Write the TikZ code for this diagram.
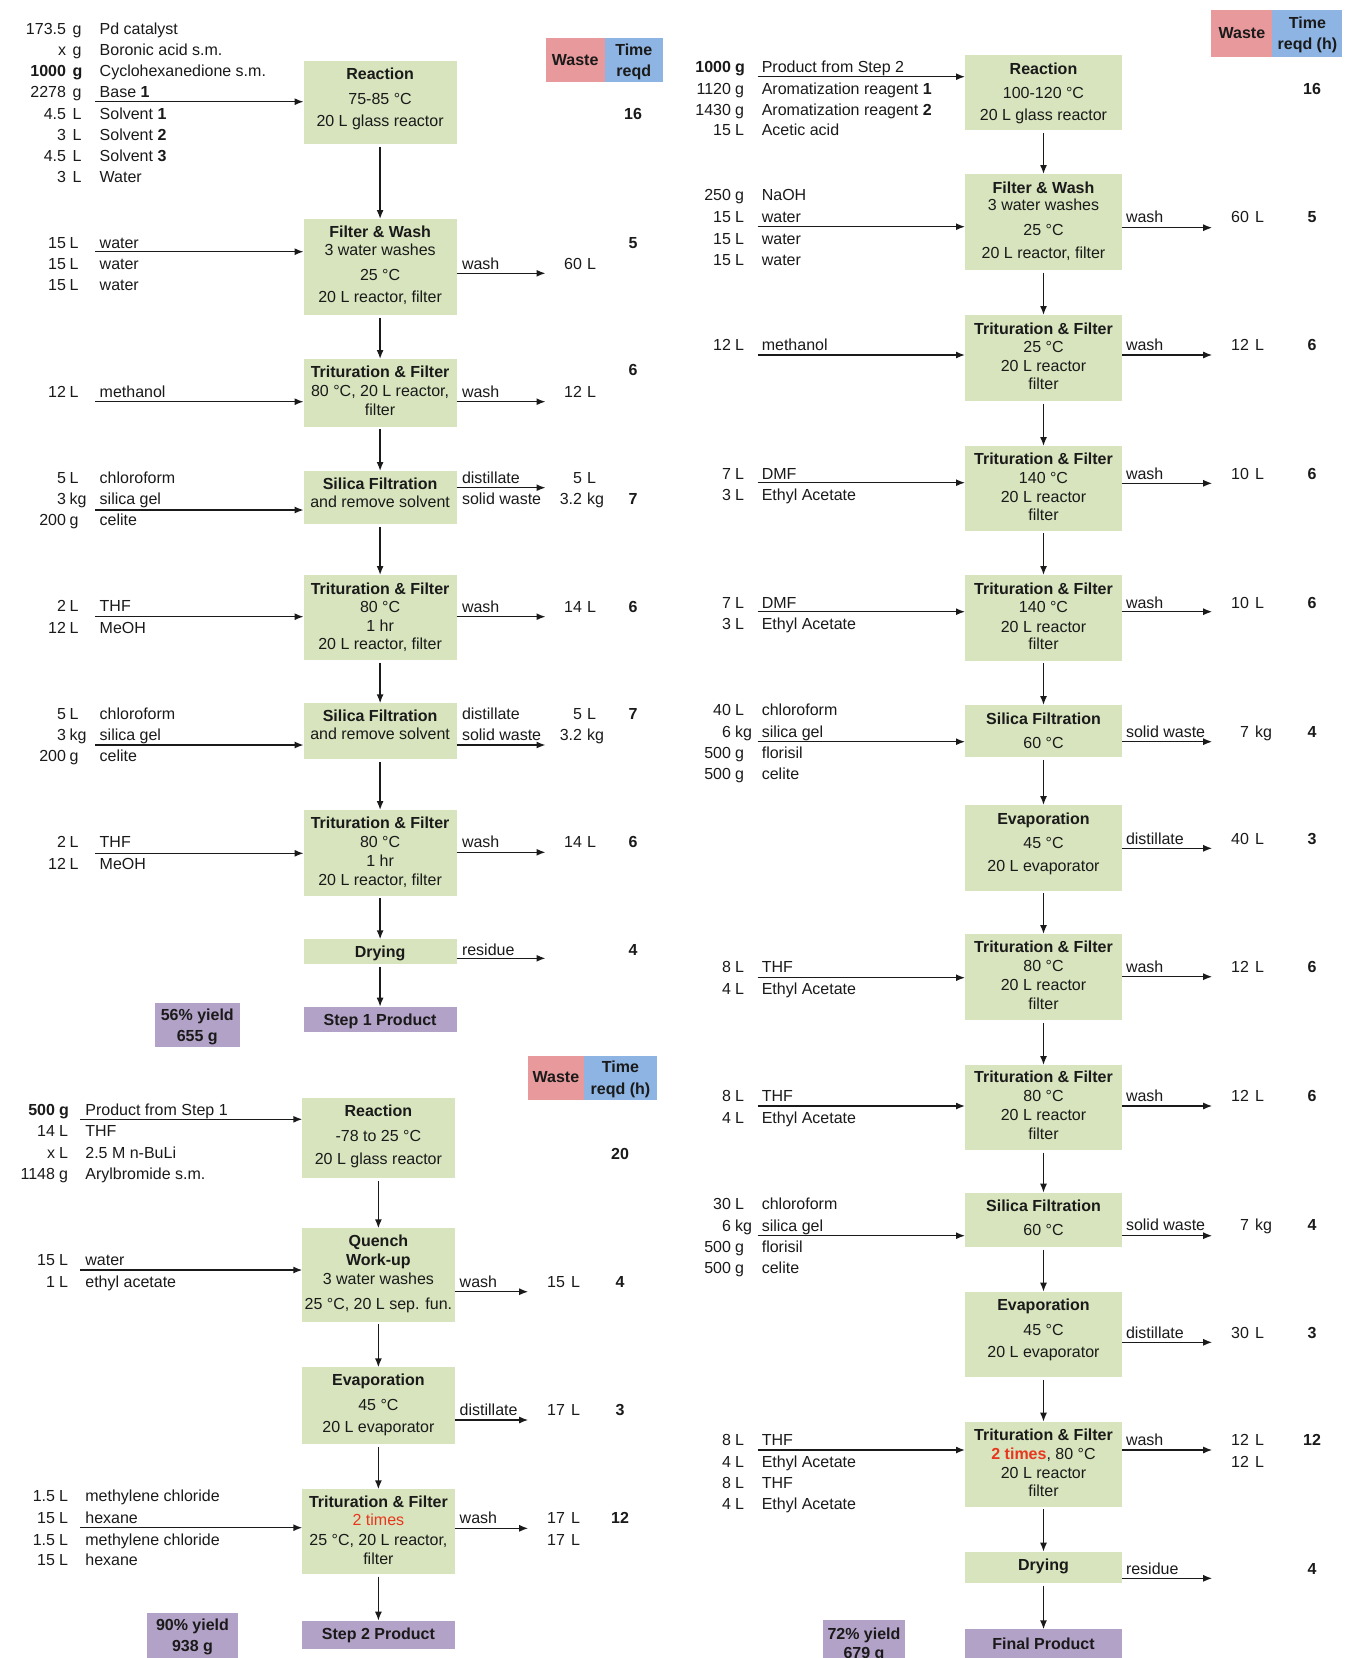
\documentclass[tikz,border=0pt]{standalone}
\usepackage{fontspec}
\setmainfont{Liberation Sans}
\usetikzlibrary{arrows.meta}
\definecolor{gboxc}{HTML}{D7E4BD}
\definecolor{pboxc}{HTML}{B3A2C7}
\definecolor{wastec}{HTML}{E8999B}
\definecolor{timec}{HTML}{8DB4E2}
\definecolor{redt}{HTML}{E8361E}
\definecolor{inkc}{HTML}{1A1A1A}
\newcount\tcnt
\newcommand\nxt{\global\advance\tcnt by 1\relax}
\newcommand\txC[3]{\nxt\node[txt,anchor=base] (t\the\tcnt) at (#1,#2) {#3};}
\newcommand\txL[3]{\nxt\node[txt,anchor=base west] (t\the\tcnt) at (#1,#2) {#3};}
\newcommand\txR[3]{\nxt\node[txt,anchor=base east] (t\the\tcnt) at (#1,#2) {#3};}
\newcommand\bx[6]{\node[#1, minimum width={(#5-#3)*1pt}, minimum height={(#6-#4)*1pt}] (#2) at ({(#3+#5)/2},{(#4+#6)/2}) {};}
\newcommand\ing[4]{\txR{\cN}{#1}{#2}\txL{\cU}{#1}{#3}\txL{\cI}{#1}{#4}}
\newcommand\wst[3]{\txR{\wN}{#1}{#2}\txL{\wU}{#1}{#3}}
\newcommand\lab[2]{\txL{\wL}{#1}{#2}}
\newcommand\hrs[2]{\txC{\tX}{#1}{\textbf{#2}}}
\newcommand\inarr[3]{\coordinate (#1) at (\aX,#2); \draw[arr] (#1) -- (#3.west |- #1);}
\newcommand\outarr[3]{\coordinate (#1) at (\oX,#2); \draw[arr] (#3.east |- #1) -- (#1);}
\newcommand\down[2]{\draw[arr,shorten <=2.5pt] (#1.south) -- (#2.north);}
\begin{document}
\begin{tikzpicture}[x=1pt,y=-1pt,
  txt/.style={inner sep=0pt,outer sep=0pt,text=inkc,font=\fontsize{16}{19}\selectfont,yshift=-5.7pt},
  gb/.style={fill=gboxc,inner sep=0pt,outer sep=0pt},
  pb/.style={fill=pboxc,inner sep=0pt,outer sep=0pt},
  wb/.style={fill=wastec,inner sep=0pt,outer sep=0pt},
  tb/.style={fill=timec,inner sep=0pt,outer sep=0pt},
  arr/.style={draw=inkc,line width=1.4pt,-{Latex[length=9pt,width=7pt]}}]
\fill[white] (0,0) rectangle (1345,1658);
\useasboundingbox (0,0) rectangle (1345,1658);

% ================= STEP 1 =================
\def\cN{66}\def\cU{72.5}\def\cI{99.7}\def\aX{95}\def\oX{545.5}\def\wL{462}\def\wN{582}\def\wU{587}\def\tX{633}
\bx{wb}{h1w}{545.5}{38.3}{605}{81.7}
\bx{tb}{h1t}{605}{38.3}{662.6}{81.7}
\txC{575.2}{59.3}{\textbf{Waste}}
\txC{633.8}{50}{\textbf{Time}}
\txC{633.8}{71}{\textbf{reqd}}

\bx{gb}{aR}{303.6}{61}{456.6}{144}
\bx{gb}{aF}{303.6}{219}{456.6}{315}
\bx{gb}{aT1}{303.6}{359}{456.6}{426.7}
\bx{gb}{aS1}{303.6}{471}{456.6}{524.3}
\bx{gb}{aT2}{303.6}{575}{456.6}{660}
\bx{gb}{aS2}{303.6}{703.3}{456.6}{759.3}
\bx{gb}{aT3}{303.6}{810}{456.6}{895.7}
\bx{gb}{aD}{303.6}{939.3}{456.6}{964}
\bx{pb}{aP}{303.6}{1006.7}{456.6}{1032.3}
\bx{pb}{aY}{154.8}{1003.3}{239.8}{1046.7}

\ing{28.3}{173.5}{g}{Pd catalyst}
\ing{49.3}{x}{g}{Boronic acid s.m.}
\ing{70.7}{\textbf{1000}}{\textbf{g}}{Cyclohexanedione s.m.}
\ing{91.7}{2278}{g}{Base \textbf{1}}
\ing{113.3}{4.5}{L}{Solvent \textbf{1}}
\ing{135}{3}{L}{Solvent \textbf{2}}
\ing{156}{4.5}{L}{Solvent \textbf{3}}
\ing{177}{3}{L}{Water}
\inarr{a1in}{101.7}{aR}
\txC{380.1}{73.3}{\textbf{Reaction}}
\txC{380.1}{98.3}{75-85 °C}
\txC{380.1}{120.7}{20 L glass reactor}
\hrs{113.3}{16}
\down{aR}{aF}

\def\cU{69.5}
\ing{242.3}{15}{L}{water}
\ing{263.3}{15}{L}{water}
\ing{284.3}{15}{L}{water}
\inarr{a2in}{251.7}{aF}
\txC{380.1}{231.7}{\textbf{Filter \& Wash}}
\txC{380.1}{250}{3 water washes}
\txC{380.1}{275}{25 °C}
\txC{380.1}{296.7}{20 L reactor, filter}
\lab{263.3}{wash}\outarr{a2out}{273.3}{aF}
\wst{263.3}{60}{L}
\hrs{242.3}{5}
\down{aF}{aT1}

\ing{391.7}{12}{L}{methanol}
\inarr{a3in}{401.7}{aT1}
\txC{380.1}{371.7}{\textbf{Trituration \& Filter}}
\txC{380.1}{390.7}{80 °C, 20 L reactor,}
\txC{380.1}{409.3}{filter}
\lab{391.7}{wash}\outarr{a3out}{401.7}{aT1}
\wst{391.7}{12}{L}
\hrs{370}{6}
\down{aT1}{aS1}

\ing{477.3}{5}{L}{chloroform}
\ing{499}{3}{kg}{silica gel}
\ing{520}{200}{g}{celite}
\inarr{a4in}{510}{aS1}
\txC{380.1}{483.3}{\textbf{Silica Filtration}}
\txC{380.1}{501.7}{and remove solvent}
\lab{477.3}{distillate}\outarr{a4out}{487.7}{aS1}
\lab{499}{solid waste}
\wst{477.3}{5}{L}
\wst{499}{3.2}{kg}
\hrs{499}{7}
\down{aS1}{aT2}

\ing{605.7}{2}{L}{THF}
\ing{627.3}{12}{L}{MeOH}
\inarr{a5in}{616.7}{aT2}
\txC{380.1}{588.3}{\textbf{Trituration \& Filter}}
\txC{380.1}{606.7}{80 °C}
\txC{380.1}{625.7}{1 hr}
\txC{380.1}{644}{20 L reactor, filter}
\lab{606.7}{wash}\outarr{a5out}{616.7}{aT2}
\wst{606.7}{14}{L}
\hrs{606.7}{6}
\down{aT2}{aS2}

\ing{713.3}{5}{L}{chloroform}
\ing{735}{3}{kg}{silica gel}
\ing{756}{200}{g}{celite}
\inarr{a6in}{745}{aS2}
\txC{380.1}{716}{\textbf{Silica Filtration}}
\txC{380.1}{734}{and remove solvent}
\lab{713.3}{distillate}
\lab{735}{solid waste}\outarr{a6out}{745}{aS2}
\wst{713.3}{5}{L}
\wst{735}{3.2}{kg}
\hrs{713.3}{7}
\down{aS2}{aT3}

\ing{841.7}{2}{L}{THF}
\ing{863.3}{12}{L}{MeOH}
\inarr{a7in}{853.3}{aT3}
\txC{380.1}{822.3}{\textbf{Trituration \& Filter}}
\txC{380.1}{841.7}{80 °C}
\txC{380.1}{860.7}{1 hr}
\txC{380.1}{879.3}{20 L reactor, filter}
\lab{841.7}{wash}\outarr{a7out}{852.3}{aT3}
\wst{841.7}{14}{L}
\hrs{841.7}{6}
\down{aT3}{aD}

\txC{380.1}{951.7}{\textbf{Drying}}
\lab{950}{residue}\outarr{a8out}{958.3}{aD}
\hrs{950}{4}
\down{aD}{aP}
\txC{380.1}{1019.3}{\textbf{Step 1 Product}}
\txC{197.3}{1015}{\textbf{56\% yield}}
\txC{197.3}{1035.7}{\textbf{655 g}}

% ================= STEP 2 =================
\def\cN{55}\def\cU{59}\def\cI{85.4}\def\aX{80.2}\def\oX{528.2}\def\wL{459.7}\def\wN{565}\def\wU{571}\def\tX{620}
\bx{wb}{h2w}{527.8}{1056}{584}{1100}
\bx{tb}{h2t}{584}{1056}{657}{1100}
\txC{555.9}{1076.7}{\textbf{Waste}}
\txC{620.5}{1066.7}{\textbf{Time}}
\txC{620.5}{1088.3}{\textbf{reqd (h)}}

\bx{gb}{bR}{302.3}{1098.3}{454.5}{1178.3}
\bx{gb}{bQ}{302.3}{1228.3}{454.5}{1321.7}
\bx{gb}{bE}{302.3}{1367.3}{454.5}{1444.3}
\bx{gb}{bT}{302.3}{1489.3}{454.5}{1574}
\bx{pb}{bP}{302.3}{1620.7}{454.5}{1649.3}
\bx{pb}{bY}{147.4}{1613.3}{237.6}{1662}

\ing{1110}{\textbf{500}}{\textbf{g}}{Product from Step 1}
\ing{1131}{14}{L}{THF}
\ing{1152.7}{x}{L}{2.5 M n-BuLi}
\ing{1174}{1148}{g}{Arylbromide s.m.}
\inarr{b1in}{1119.3}{bR}
\txC{378.4}{1111}{\textbf{Reaction}}
\txC{378.4}{1135.7}{-78 to 25 °C}
\txC{378.4}{1158.3}{20 L glass reactor}
\hrs{1153.3}{20}
\down{bR}{bQ}

\ing{1260}{15}{L}{water}
\ing{1281.7}{1}{L}{ethyl acetate}
\inarr{b2in}{1270}{bQ}
\txC{378.4}{1240.7}{\textbf{Quench}}
\txC{378.4}{1259.3}{\textbf{Work-up}}
\txC{378.4}{1278.3}{3 water washes}
\txC{378.4}{1304}{25 °C, 20 L sep. fun.}
\lab{1281.7}{wash}\outarr{b2out}{1291.7}{bQ}
\wst{1281.7}{15}{L}
\hrs{1281.7}{4}
\down{bQ}{bE}

\txC{378.4}{1380}{\textbf{Evaporation}}
\txC{378.4}{1405}{45 °C}
\txC{378.4}{1426.7}{20 L evaporator}
\lab{1410}{distillate}\outarr{b3out}{1420}{bE}
\wst{1410}{17}{L}
\hrs{1410}{3}
\down{bE}{bT}

\ing{1496}{1.5}{L}{methylene chloride}
\ing{1517.7}{15}{L}{hexane}
\ing{1539.3}{1.5}{L}{methylene chloride}
\ing{1560}{15}{L}{hexane}
\inarr{b4in}{1527.7}{bT}
\txC{378.4}{1501.7}{\textbf{Trituration \& Filter}}
\txC{378.4}{1520}{\textcolor{redt}{2 times}}
\txC{378.4}{1539.3}{25 °C, 20 L reactor,}
\txC{378.4}{1558.3}{filter}
\lab{1517.7}{wash}\outarr{b4out}{1528.3}{bT}
\wst{1517.7}{17}{L}
\wst{1539.3}{17}{L}
\hrs{1517.7}{12}
\down{bT}{bP}
\txC{378.4}{1633.3}{\textbf{Step 2 Product}}
\txC{192.5}{1625}{\textbf{90\% yield}}
\txC{192.5}{1645.7}{\textbf{938 g}}

% ================= STEP 3 (right) =================
\def\cN{731}\def\cU{735}\def\cI{761.8}\def\aX{757.6}\def\oX{1212.2}\def\wL{1126}\def\wN{1249}\def\wU{1255}\def\tX{1312}
\bx{wb}{h3w}{1211.4}{10}{1272.4}{56.7}
\bx{tb}{h3t}{1272.4}{10}{1342.4}{56.7}
\txC{1241.9}{32.7}{\textbf{Waste}}
\txC{1307.4}{22.7}{\textbf{Time}}
\txC{1307.4}{43.3}{\textbf{reqd (h)}}

\bx{gb}{cR}{965}{55}{1122}{130}
\bx{gb}{cF}{965}{174}{1122}{270}
\bx{gb}{cT1}{965}{315}{1122}{401}
\bx{gb}{cT2}{965}{446}{1122}{530.7}
\bx{gb}{cT3}{965}{575}{1122}{660.7}
\bx{gb}{cS1}{965}{705}{1122}{757.3}
\bx{gb}{cE1}{965}{805}{1122}{890.7}
\bx{gb}{cT4}{965}{934}{1122}{1020}
\bx{gb}{cT5}{965}{1065}{1122}{1150}
\bx{gb}{cS2}{965}{1192.7}{1122}{1247.3}
\bx{gb}{cE2}{965}{1291.7}{1122}{1377.3}
\bx{gb}{cT6}{965}{1421.7}{1122}{1506.7}
\bx{gb}{cD}{965}{1551.7}{1122}{1583.3}
\bx{pb}{cP}{965}{1629.3}{1122}{1662}
\bx{pb}{cY}{823.3}{1620}{904.8}{1662}

\ing{66.7}{\textbf{1000}}{\textbf{g}}{Product from Step 2}
\ing{88.3}{1120}{g}{Aromatization reagent \textbf{1}}
\ing{109.3}{1430}{g}{Aromatization reagent \textbf{2}}
\ing{130}{15}{L}{Acetic acid}
\inarr{c1in}{76.7}{cR}
\txC{1043.5}{68.3}{\textbf{Reaction}}
\txC{1043.5}{92.7}{100-120 °C}
\txC{1043.5}{115}{20 L glass reactor}
\hrs{88.3}{16}
\down{cR}{cF}

\ing{195}{250}{g}{NaOH}
\ing{216.7}{15}{L}{water}
\ing{238.3}{15}{L}{water}
\ing{259.3}{15}{L}{water}
\inarr{c2in}{226.7}{cF}
\txC{1043.5}{187.3}{\textbf{Filter \& Wash}}
\txC{1043.5}{205}{3 water washes}
\txC{1043.5}{230}{25 °C}
\txC{1043.5}{252.3}{20 L reactor, filter}
\lab{216.7}{wash}\outarr{c2out}{227.7}{cF}
\wst{216.7}{60}{L}
\hrs{216.7}{5}
\down{cF}{cT1}

\ing{345}{12}{L}{methanol}
\inarr{c3in}{355}{cT1}
\txC{1043.5}{328.3}{\textbf{Trituration \& Filter}}
\txC{1043.5}{346.7}{25 °C}
\txC{1043.5}{366}{20 L reactor}
\txC{1043.5}{384}{filter}
\lab{345}{wash}\outarr{c3out}{355}{cT1}
\wst{345}{12}{L}
\hrs{345}{6}
\down{cT1}{cT2}

\ing{473.3}{7}{L}{DMF}
\ing{495}{3}{L}{Ethyl Acetate}
\inarr{c4in}{482.7}{cT2}
\txC{1043.5}{459}{\textbf{Trituration \& Filter}}
\txC{1043.5}{477.3}{140 °C}
\txC{1043.5}{496.7}{20 L reactor}
\txC{1043.5}{515}{filter}
\lab{473.3}{wash}\outarr{c4out}{483.3}{cT2}
\wst{473.3}{10}{L}
\hrs{473.3}{6}
\down{cT2}{cT3}

\ing{602.7}{7}{L}{DMF}
\ing{624}{3}{L}{Ethyl Acetate}
\inarr{c5in}{611.7}{cT3}
\txC{1043.5}{588.3}{\textbf{Trituration \& Filter}}
\txC{1043.5}{606.7}{140 °C}
\txC{1043.5}{626.7}{20 L reactor}
\txC{1043.5}{644}{filter}
\lab{602.7}{wash}\outarr{c5out}{611.7}{cT3}
\wst{602.7}{10}{L}
\hrs{602.7}{6}
\down{cT3}{cS1}

\ing{710}{40}{L}{chloroform}
\ing{731.7}{6}{kg}{silica gel}
\ing{752.7}{500}{g}{florisil}
\ing{774}{500}{g}{celite}
\inarr{c6in}{741.7}{cS1}
\txC{1043.5}{718.3}{\textbf{Silica Filtration}}
\txC{1043.5}{742.3}{60 °C}
\lab{731.7}{solid waste}\outarr{c6out}{741.7}{cS1}
\wst{731.7}{7}{kg}
\hrs{731.7}{4}
\down{cS1}{cE1}

\txC{1043.5}{818.3}{\textbf{Evaporation}}
\txC{1043.5}{842.7}{45 °C}
\txC{1043.5}{865.7}{20 L evaporator}
\lab{838.3}{distillate}\outarr{c7out}{848.3}{cE1}
\wst{838.3}{40}{L}
\hrs{838.3}{3}
\down{cE1}{cT4}

\ing{966.7}{8}{L}{THF}
\ing{989}{4}{L}{Ethyl Acetate}
\inarr{c8in}{977.7}{cT4}
\txC{1043.5}{946.7}{\textbf{Trituration \& Filter}}
\txC{1043.5}{965.7}{80 °C}
\txC{1043.5}{985}{20 L reactor}
\txC{1043.5}{1003.3}{filter}
\lab{966.7}{wash}\outarr{c8out}{976.7}{cT4}
\wst{966.7}{12}{L}
\hrs{966.7}{6}
\down{cT4}{cT5}

\ing{1095.7}{8}{L}{THF}
\ing{1117.3}{4}{L}{Ethyl Acetate}
\inarr{c9in}{1106}{cT5}
\txC{1043.5}{1076.7}{\textbf{Trituration \& Filter}}
\txC{1043.5}{1095.7}{80 °C}
\txC{1043.5}{1115}{20 L reactor}
\txC{1043.5}{1134}{filter}
\lab{1095.7}{wash}\outarr{c9out}{1106}{cT5}
\wst{1095.7}{12}{L}
\hrs{1095.7}{6}
\down{cT5}{cS2}

\ing{1203.3}{30}{L}{chloroform}
\ing{1225.7}{6}{kg}{silica gel}
\ing{1246.7}{500}{g}{florisil}
\ing{1267.7}{500}{g}{celite}
\inarr{c10in}{1235.7}{cS2}
\txC{1043.5}{1206}{\textbf{Silica Filtration}}
\txC{1043.5}{1230}{60 °C}
\lab{1225}{solid waste}\outarr{c10out}{1235.7}{cS2}
\wst{1225}{7}{kg}
\hrs{1225}{4}
\down{cS2}{cE2}

\txC{1043.5}{1305}{\textbf{Evaporation}}
\txC{1043.5}{1329.3}{45 °C}
\txC{1043.5}{1351.7}{20 L evaporator}
\lab{1332.3}{distillate}\outarr{c11out}{1342.3}{cE2}
\wst{1332.3}{30}{L}
\hrs{1332.3}{3}
\down{cE2}{cT6}

\ing{1440}{8}{L}{THF}
\ing{1461.7}{4}{L}{Ethyl Acetate}
\ing{1482.3}{8}{L}{THF}
\ing{1503.3}{4}{L}{Ethyl Acetate}
\inarr{c12in}{1450}{cT6}
\txC{1043.5}{1434.3}{\textbf{Trituration \& Filter}}
\txC{1043.5}{1453.3}{\textcolor{redt}{\textbf{2 times}}, 80 °C}
\txC{1043.5}{1472.7}{20 L reactor}
\txC{1043.5}{1490.7}{filter}
\lab{1440}{wash}\outarr{c12out}{1450}{cT6}
\wst{1440}{12}{L}
\wst{1461.7}{12}{L}
\hrs{1440}{12}
\down{cT6}{cD}

\txC{1043.5}{1565}{\textbf{Drying}}
\lab{1568.3}{residue}\outarr{c13out}{1578.3}{cD}
\hrs{1568.3}{4}
\down{cD}{cP}
\txC{1043.5}{1643.3}{\textbf{Final Product}}
\txC{864}{1633.3}{\textbf{72\% yield}}
\txC{864}{1653}{\textbf{679 g}}
\end{tikzpicture}
\end{document}
